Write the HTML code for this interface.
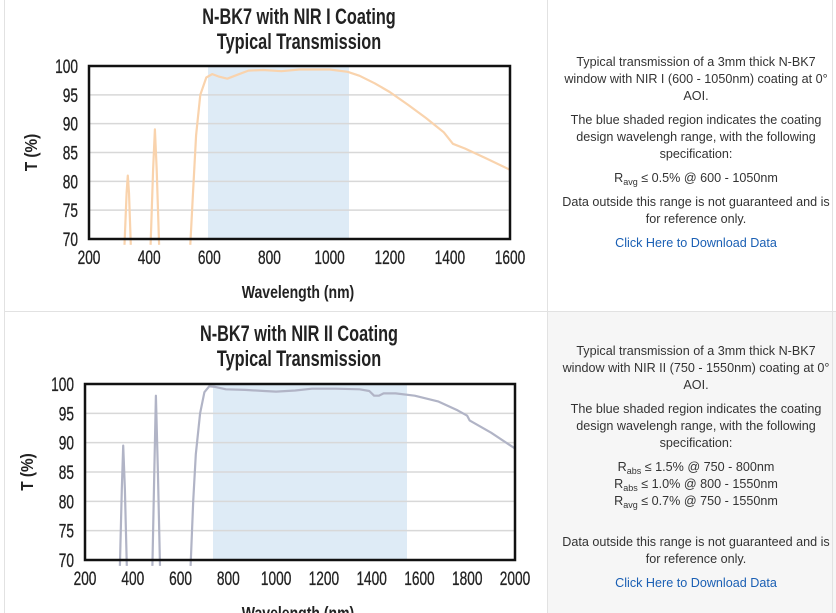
<!DOCTYPE html>
<html><head><meta charset="utf-8"><style>
body{margin:0;width:836px;height:613px;background:#fff;position:relative;overflow:hidden;font-family:"Liberation Sans",sans-serif}
.b{position:absolute;background:#e2e2e2}
.txt{position:absolute;left:554px;width:284px;text-align:center;font-size:12.6px;line-height:17px;color:#333;white-space:nowrap}
.txt p{margin:0 0 7px 0}
.txt a{color:#1a5fb4;text-decoration:none}
sub{font-size:9px;vertical-align:-3px;line-height:0}
svg text{font-family:"Liberation Sans",sans-serif}
</style></head><body>
<div style="position:absolute;left:548px;top:312px;width:288px;height:301px;background:#f6f6f6"></div>
<div class="b" style="left:4px;top:0;width:1px;height:613px"></div>
<div class="b" style="left:547px;top:0;width:1px;height:613px"></div>
<div class="b" style="left:832px;top:0;width:1px;height:613px"></div>
<div class="b" style="left:4px;top:311px;width:832px;height:1px"></div>
<svg id="s" width="548" height="613" style="position:absolute;left:0;top:0"></svg>
<div class="txt" style="top:54px">
<p>Typical transmission of a 3mm thick N-BK7<br>window with NIR I (600 - 1050nm) coating at 0°<br>AOI.</p>
<p>The blue shaded region indicates the coating<br>design wavelengh range, with the following<br>specification:</p>
<p>R<sub>avg</sub> ≤ 0.5% @ 600 - 1050nm</p>
<p>Data outside this range is not guaranteed and is<br>for reference only.</p>
<p><a>Click Here to Download Data</a></p>
</div>
<div class="txt" style="top:343px">
<p>Typical transmission of a 3mm thick N-BK7<br>window with NIR II (750 - 1550nm) coating at 0°<br>AOI.</p>
<p>The blue shaded region indicates the coating<br>design wavelengh range, with the following<br>specification:</p>
<p style="margin-bottom:24px">R<sub>abs</sub> ≤ 1.5% @ 750 - 800nm<br>R<sub>abs</sub> ≤ 1.0% @ 800 - 1550nm<br>R<sub>avg</sub> ≤ 0.7% @ 750 - 1550nm</p>
<p>Data outside this range is not guaranteed and is<br>for reference only.</p>
<p><a>Click Here to Download Data</a></p>
</div>
<script>
var s=document.getElementById('s'),h='';
function chart(o){
 var L=o.L,R=o.R,T=o.T,B=o.B,X=function(w){return L+(w-o.x0)/(o.x1-o.x0)*(R-L)},Y=function(v){return B-(v-70)/30*(B-T)};
 h+='<rect x="'+o.s0+'" y="'+T+'" width="'+(o.s1-o.s0)+'" height="'+(B-T)+'" fill="#deebf6"/>';
 for(var v=75;v<100;v+=5)h+='<line x1="'+L+'" x2="'+R+'" y1="'+Y(v)+'" y2="'+Y(v)+'" stroke="#d8d8d8" stroke-width="1.5"/>';
 for(var v=70;v<=100;v+=5)h+='<text x="0" y="'+(Y(v)+7)+'" text-anchor="end" font-size="19" fill="#222" stroke="#222" stroke-width="0.3" transform="translate('+(L-11)+',0) scale(0.72,1)">'+v+'</text>';
 for(var w=o.x0;w<=o.x1;w+=200){var x=X(w);h+='<text x="0" y="'+(B+25)+'" text-anchor="middle" font-size="19" fill="#222" stroke="#222" stroke-width="0.3" transform="translate('+x+',0) scale(0.72,1)">'+w+'</text>';}
 o.segs.forEach(function(sg){var d='';sg.forEach(function(p,i){d+=(i?'L':'M')+X(p[0]).toFixed(1)+','+Y(p[1]).toFixed(1)});h+='<path d="'+d+'" fill="none" stroke="'+o.c+'" stroke-width="2.2" stroke-linejoin="round"/>';});
 h+='<rect x="'+L+'" y="'+T+'" width="'+(R-L)+'" height="'+(B-T)+'" fill="none" stroke="#111" stroke-width="2.5"/>';
 var cx=o.cx;
 h+='<text x="0" y="'+o.ty+'" text-anchor="middle" font-size="22" font-weight="bold" fill="#222" transform="translate('+cx+',0) scale(0.74,1)">'+o.t1+'</text>';
 h+='<text x="0" y="'+(o.ty+25)+'" text-anchor="middle" font-size="22" font-weight="bold" fill="#222" transform="translate('+cx+',0) scale(0.74,1)">Typical Transmission</text>';
 h+='<text x="0" y="0" text-anchor="middle" font-size="18" font-weight="bold" fill="#222" transform="translate('+o.yl+','+((T+B)/2)+') rotate(-90) scale(0.85,1)">T (%)</text>';
 h+='<text x="0" y="'+(B+59)+'" text-anchor="middle" font-size="18" font-weight="bold" fill="#222" transform="translate('+o.wx+',0) scale(0.78,1)">Wavelength (nm)</text>';
}
chart({L:89,R:510,T:66,B:239,x0:200,x1:1600,s0:208,s1:349,ty:24,cx:299,yl:37,wx:298,t1:'N-BK7 with NIR I Coating',c:'#f9d3ad',
segs:[[[318,69],[325,78],[329,81],[333,78],[339,69]],[[405,69],[413,82],[419,89],[425,82],[433,69]],
[[537,69],[546,78],[556,88],[570,95],[590,98],[610,98.6],[630,98.2],[660,97.8],[690,98.4],[730,99.2],[780,99.3],[840,99.1],[900,99.4],[1000,99.4],[1060,99],[1100,98.3],[1150,97],[1200,95.5],[1260,93.3],[1320,91],[1380,88.5],[1410,86.5],[1450,85.7],[1520,84],[1600,82]]]});
chart({L:85,R:515,T:384,B:560,x0:200,x1:2000,s0:213,s1:407,ty:341,cx:299,yl:33,wx:298,t1:'N-BK7 with NIR II Coating',c:'#b1b4c6',
segs:[[[346,69],[354,82],[360,89.5],[367,82],[375,69]],[[482,69],[490,85],[497,98],[505,85],[514,69]],
[[642,69],[653,80],[664,88],[682,95],[700,98.6],[720,99.6],[745,99.5],[790,99.1],[870,99],[950,98.8],[1000,98.7],[1080,98.9],[1150,99.2],[1250,99.2],[1350,99.1],[1390,98.8],[1410,98],[1430,98],[1450,98.4],[1500,98.4],[1580,98],[1680,97],[1760,95.5],[1800,94.6],[1810,93.8],[1900,91.7],[2000,89]]]});
s.innerHTML=h;
</script>
</body></html>
